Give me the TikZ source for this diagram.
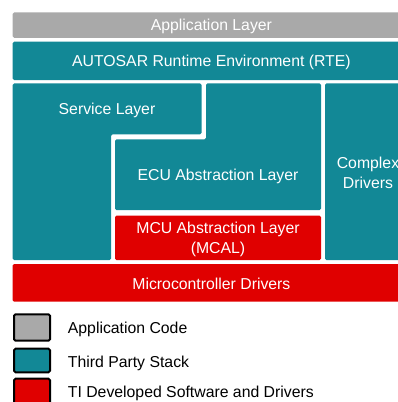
\documentclass[tikz,border=0pt]{standalone}
\usepackage{fontspec}
\setmainfont{Liberation Sans}
\definecolor{appgray}{RGB}{169,169,169}
\definecolor{tealc}{RGB}{18,136,150}
\definecolor{tired}{RGB}{224,0,0}
\tikzset{
  blk/.style={rounded corners=1.5pt},
  lbl/.style={text=white,font=\fontsize{15.8}{20}\selectfont,align=center,inner sep=0pt,yshift=-1.6pt},
  legbox/.style={draw=black,line width=2pt,rounded corners=1.5pt},
  legtxt/.style={text=black,font=\fontsize{15.8}{20}\selectfont,anchor=west,inner sep=0pt,yshift=-1.6pt},
}
\begin{document}
\begin{tikzpicture}[x=1pt,y=-1pt]
\useasboundingbox (0,0) rectangle (398,402);
\clip (0,0) rectangle (398,402);
% Application layer
\fill[appgray,blk] (12.7,12.3) rectangle (410,37.8);
\node[lbl] (app) at (211.4,25) {Application Layer};
% RTE
\fill[tealc,blk] (12.7,41.7) rectangle (410,80);
\node[lbl] (rte) at (211.4,60.8) {AUTOSAR Runtime Environment (RTE)};
% Service layer (L shape)
\fill[tealc,blk] (12.7,83.3) -- (201.5,83.3) -- (201.5,134.3) -- (111,134.3) -- (111,260) -- (12.7,260) -- cycle;
\node[lbl] (svc) at (107,108.5) {Service Layer};
% ECU abstraction (L shape)
\fill[tealc,blk] (206,83.3) -- (321,83.3) -- (321,210) -- (115,210) -- (115,139.3) -- (206,139.3) -- cycle;
\node[lbl] (ecu) at (218,174.8) {ECU Abstraction Layer};
% Complex drivers
\fill[tealc,blk] (325,83.3) rectangle (412,260);
\node[lbl] (cdd) at (368,171) {Complex\\Drivers};
% MCAL
\fill[tired,blk] (115,215.7) rectangle (321,260);
\node[lbl] (mcal) at (218,237.8) {MCU Abstraction Layer\\(MCAL)};
% Microcontroller drivers
\fill[tired,blk] (12.7,264) rectangle (410,301.7);
\node[lbl] (mcu) at (211.4,282.5) {Microcontroller Drivers};
% Legend
\draw[legbox,fill=appgray] (14,314.3) rectangle (50,340.7);
\draw[legbox,fill=tealc] (14,348.7) rectangle (50,372.3);
\draw[legbox,fill=tired] (14,378.7) rectangle (50,405);
\node[legtxt] (l1) at (67.7,327.7) {Application Code};
\node[legtxt] (l2) at (67.7,361.7) {Third Party Stack};
\node[legtxt] (l3) at (67.7,391.7) {TI Developed Software and Drivers};
\end{tikzpicture}
\end{document}
